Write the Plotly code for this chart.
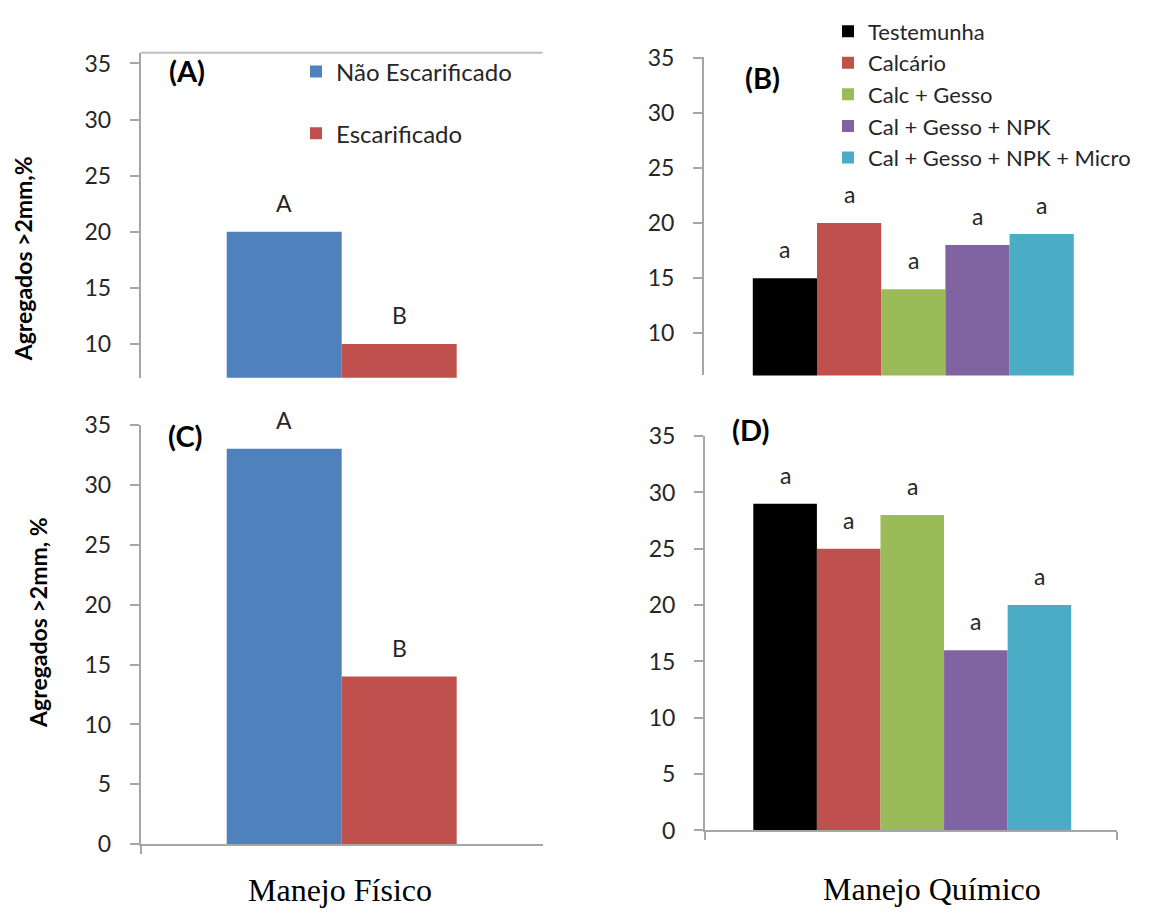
import plotly.graph_objects as go

W, H = 1154, 922

# Physical management (panels A and C)
fisico_series = ["Não Escarificado", "Escarificado"]
fisico_colors = ["#4F81BD", "#C0504D"]
fisico_a = [20, 10]
fisico_c = [33, 14]
fisico_letters = ["A", "B"]

# Chemical management (panels B and D)
quimico_series = ["Testemunha", "Calcário", "Calc + Gesso",
                  "Cal + Gesso + NPK", "Cal + Gesso + NPK + Micro"]
quimico_colors = ["#000000", "#C0504D", "#9BBB59", "#8064A2", "#4BACC6"]
quimico_b = [15, 20, 14, 18, 19]
quimico_d = [29, 25, 28, 16, 20]
quimico_letters = ["a", "a", "a", "a", "a"]

y_ticks = [0, 5, 10, 15, 20, 25, 30, 35]

SANS = "Lato"
SERIF = "Liberation Serif"
AXIS_GRAY = "#a6a6a6"
TEXT = "#262626"


def px_x(x):
    return x / W


def px_y(y):
    return 1 - y / H


fig = go.Figure()

panels = [
    # (values, names, colors, letters, axis suffix, legend, showlegend)
    (fisico_a, fisico_series, fisico_colors, fisico_letters, "", "legend", True),
    (quimico_b, quimico_series, quimico_colors, quimico_letters, "2", "legend2", True),
    (fisico_c, fisico_series, fisico_colors, fisico_letters, "3", "legend", False),
    (quimico_d, quimico_series, quimico_colors, quimico_letters, "4", "legend2", False),
]

annotations = []
for vals, names, cols, letters, sfx, leg, show in panels:
    for i, (v, n, c) in enumerate(zip(vals, names, cols)):
        fig.add_trace(go.Bar(
            x=[i], y=[v], width=1, name=n,
            marker=dict(color=c, line=dict(width=0)),
            xaxis="x" + sfx, yaxis="y" + sfx,
            legend=leg, legendgroup=n + sfx, showlegend=show,
            hoverinfo="skip",
        ))
        # significance letter above each bar
        annotations.append(dict(
            x=i, y=v, xref="x" + sfx, yref="y" + sfx,
            text=letters[i], showarrow=False, yshift=29, yanchor="middle",
            font=dict(family=SANS, size=23, color=TEXT),
        ))

tick_font = dict(family=SANS, size=23, color=TEXT)


def yaxis(domain, rng, anchor):
    return dict(
        domain=domain, range=rng, anchor=anchor,
        tickvals=y_ticks, ticks="outside", ticklen=9, tickwidth=2,
        tickcolor=AXIS_GRAY, showline=True, linecolor=AXIS_GRAY, linewidth=2,
        showgrid=False, zeroline=False, tickfont=tick_font,
        ticklabelstandoff=14,
    )


def xaxis(domain, rng, anchor, line, tickvals):
    return dict(
        domain=domain, range=rng, anchor=anchor,
        showline=line, linecolor=AXIS_GRAY, linewidth=2,
        ticks="outside" if tickvals else "", tickvals=tickvals,
        ticklen=8, tickwidth=2, tickcolor=AXIS_GRAY,
        showticklabels=False, showgrid=False, zeroline=False,
    )


xr_f = [-1.248, 2.248]
xr_q = [-1.26, 5.22]

fig.update_layout(
    width=W, height=H,
    margin=dict(l=0, r=0, t=0, b=0),
    paper_bgcolor="white", plot_bgcolor="white",
    barmode="overlay",
    xaxis=xaxis([px_x(140.7), px_x(542.7)], xr_f, "y", False, []),
    yaxis=yaxis([px_y(374), px_y(39)], [7.0, 35.95], "x"),
    xaxis2=xaxis([px_x(704), px_x(1120)], xr_q, "y2", False, []),
    yaxis2=yaxis([px_y(371.7), px_y(43.3)], [6.18, 35.06], "x2"),
    xaxis3=xaxis([px_x(140.7), px_x(542.7)], xr_f, "y3", True, [xr_f[0]]),
    yaxis3=yaxis([px_y(855.3), px_y(422.7)], [0, 35], "x3"),
    xaxis4=xaxis([px_x(705), px_x(1117)], xr_q, "y4", True, xr_q),
    yaxis4=yaxis([px_y(841), px_y(434.3)], [0, 35], "x4"),
    legend=dict(
        x=px_x(296), y=px_y(35.5), xanchor="left", yanchor="top",
        font=dict(family=SANS, size=24, color=TEXT),
        tracegroupgap=27.5, traceorder="grouped", bgcolor="rgba(0,0,0,0)",
        itemwidth=30,
    ),
    legend2=dict(
        x=px_x(828), y=px_y(-4.8), xanchor="left", yanchor="top",
        font=dict(family=SANS, size=22, color=TEXT),
        tracegroupgap=0, traceorder="grouped", bgcolor="rgba(0,0,0,0)",
        itemwidth=30,
    ),
    shapes=[
        # top border of panel A
        dict(type="line", xref="x domain", yref="y domain",
             x0=0, x1=1, y0=1, y1=1, line=dict(color="#bfbfbf", width=2)),
    ],
)

# panel labels
for txt, cx, cy in [("(A)", 187, 57), ("(B)", 762, 64),
                    ("(C)", 185, 434), ("(D)", 751, 427)]:
    annotations.append(dict(
        x=px_x(cx), y=px_y(cy), xref="paper", yref="paper",
        text="<b>" + txt + "</b>", showarrow=False,
        xanchor="center", yanchor="middle",
        font=dict(family=SANS, size=29, color="#000000"),
    ))

# y-axis titles
for txt, cx, cy in [("Agregados >2mm,%", 23, 252), ("Agregados >2mm, %", 38, 627)]:
    annotations.append(dict(
        x=px_x(cx), y=px_y(cy), xref="paper", yref="paper",
        text="<b>" + txt + "</b>", showarrow=False, textangle=-90,
        xanchor="center", yanchor="middle",
        font=dict(family=SANS, size=23, color="#000000"),
    ))

# x-axis titles
for txt, cx, cy in [("Manejo Físico", 340, 902), ("Manejo Químico", 932, 901)]:
    annotations.append(dict(
        x=px_x(cx), y=px_y(cy), xref="paper", yref="paper",
        text=txt, showarrow=False, xanchor="center", yanchor="middle",
        font=dict(family=SERIF, size=32, color="#000000"),
    ))

fig.update_layout(annotations=annotations)

fig.write_html("out.html")
